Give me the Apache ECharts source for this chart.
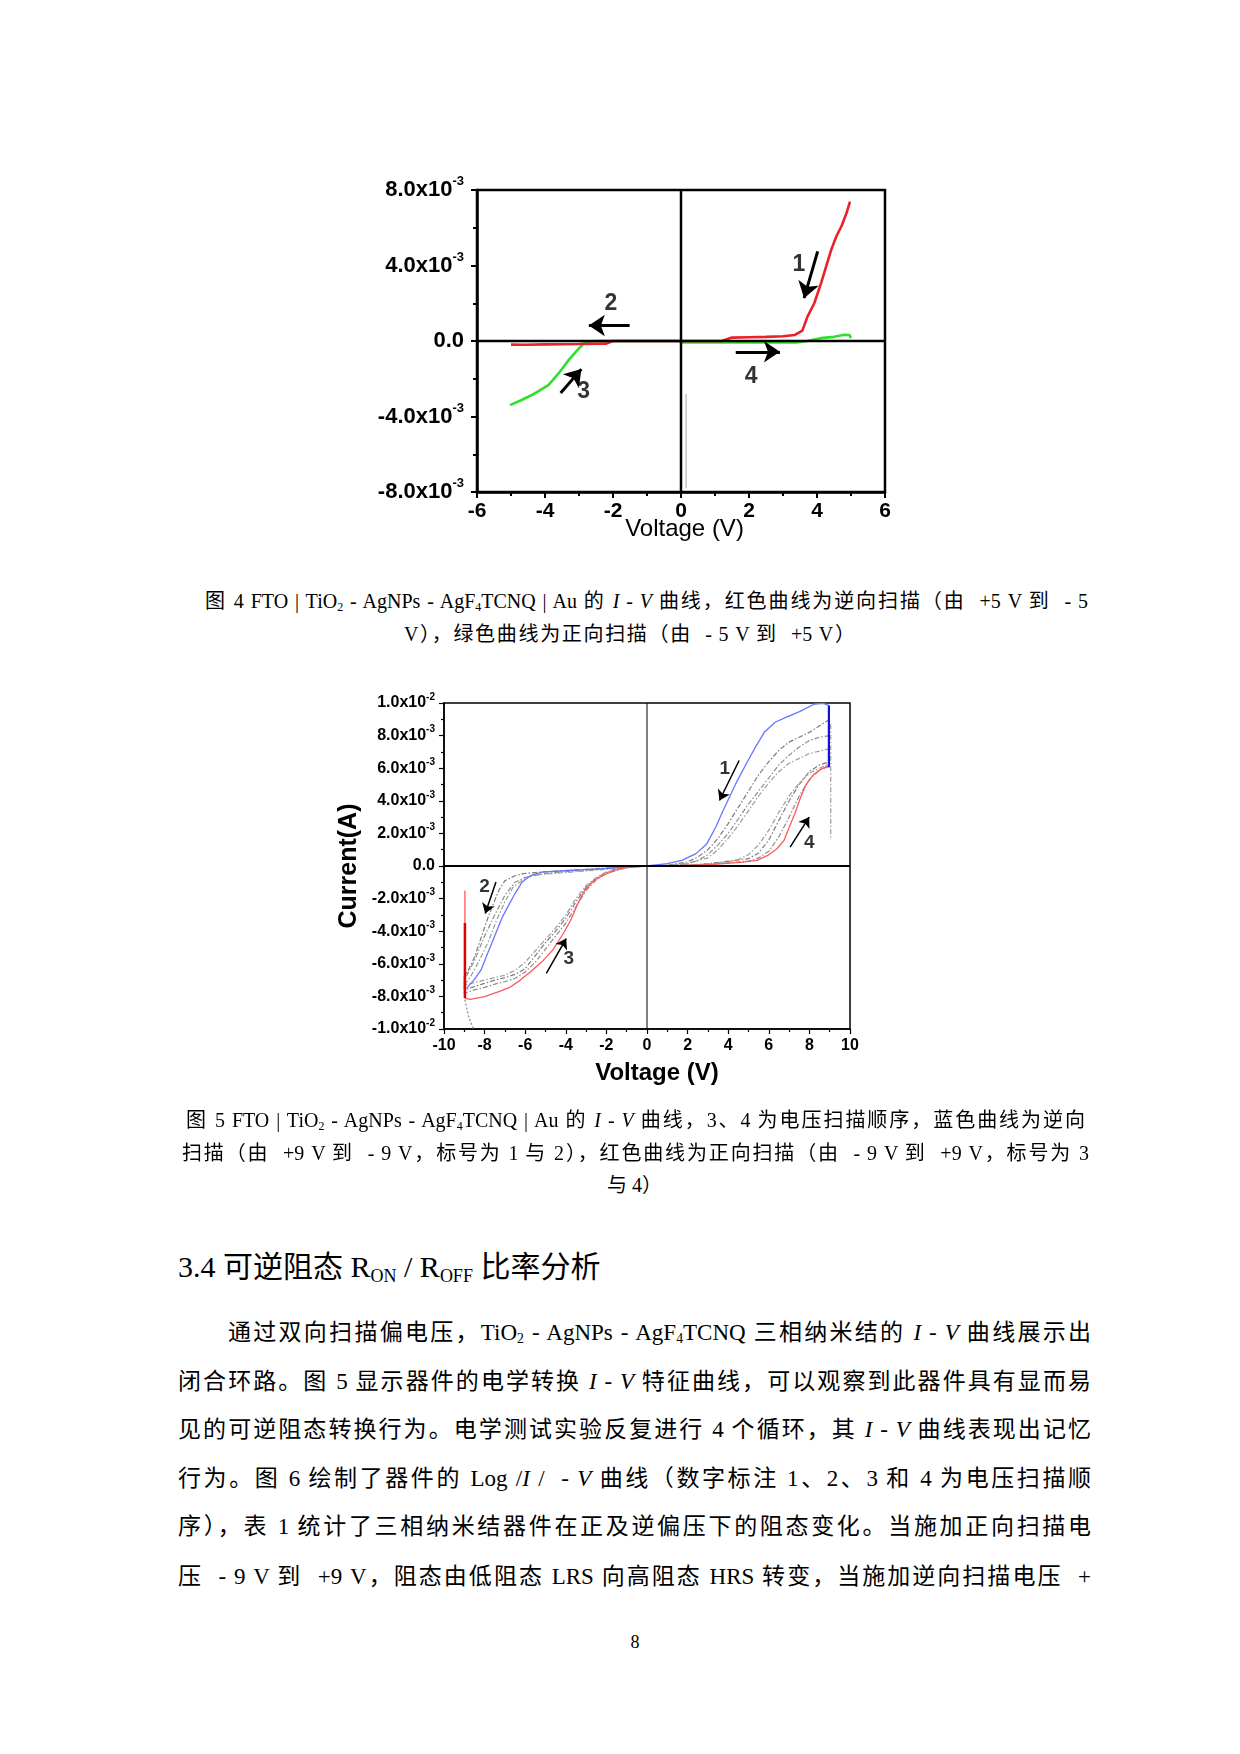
<!DOCTYPE html>
<html><head><meta charset="utf-8">
<script src="https://cdn.jsdelivr.net/npm/echarts@6/dist/echarts.min.js"></script>
<style>
html,body{margin:0;padding:0;background:#fff;}
#page{position:relative;width:1240px;height:1754px;overflow:hidden;background:#fff;}
.t{position:absolute;font-family:"Liberation Serif","Noto Sans CJK SC",serif;color:#000;}
.j{text-align:justify;text-align-last:justify;white-space:nowrap;}
.c{text-align:center;white-space:nowrap;}
.cap{font-size:20px;line-height:26px;height:26px;}
.body{font-size:23px;line-height:30px;height:30px;}
.head{font-size:30px;line-height:36px;height:36px;white-space:nowrap;}
sub{font-size:0.6em;vertical-align:-0.25em;line-height:0;}
#c1{position:absolute;left:300px;top:150px;width:640px;height:420px;}
#c2{position:absolute;left:290px;top:670px;width:620px;height:440px;}
</style></head>
<body><div id="page">
<div id="c1"></div>
<div id="c2"></div>

<div class="t cap j" style="left:205px;top:588px;width:883px;">图 4 FTO | TiO<sub>2</sub> - AgNPs - AgF<sub>4</sub>TCNQ | Au 的 <i>I</i> - <i>V</i> 曲线，红色曲线为逆向扫描（由&nbsp; +5 V 到&nbsp; - 5</div>
<div class="t cap j" style="left:404px;top:621px;width:451px;">V），绿色曲线为正向扫描（由&nbsp; - 5 V 到&nbsp; +5 V）</div>

<div class="t cap j" style="left:186px;top:1107px;width:899px;">图 5 FTO | TiO<sub>2</sub> - AgNPs - AgF<sub>4</sub>TCNQ | Au 的 <i>I</i> - <i>V</i> 曲线，3、4 为电压扫描顺序，蓝色曲线为逆向</div>
<div class="t cap j" style="left:182px;top:1140px;width:907px;">扫描（由&nbsp; +9 V 到&nbsp; - 9 V，标号为 1 与 2），红色曲线为正向扫描（由&nbsp; - 9 V 到&nbsp; +9 V，标号为 3</div>
<div class="t cap j" style="left:607px;top:1172px;width:46px;">与 4）</div>

<div class="t head" style="left:178px;top:1249px;">3.4 可逆阻态 R<sub>ON</sub> / R<sub>OFF</sub> 比率分析</div>

<div class="t body j" style="left:228px;top:1318px;width:863px;">通过双向扫描偏电压，TiO<sub>2</sub> - AgNPs - AgF<sub>4</sub>TCNQ 三相纳米结的 <i>I</i> - <i>V</i> 曲线展示出</div>
<div class="t body j" style="left:178px;top:1367px;width:913px;">闭合环路。图 5 显示器件的电学转换 <i>I</i> - <i>V</i> 特征曲线，可以观察到此器件具有显而易</div>
<div class="t body j" style="left:178px;top:1415px;width:913px;">见的可逆阻态转换行为。电学测试实验反复进行 4 个循环，其 <i>I</i> - <i>V</i> 曲线表现出记忆</div>
<div class="t body j" style="left:178px;top:1464px;width:913px;">行为。图 6 绘制了器件的 Log /<i>I</i> /&nbsp; - <i>V</i> 曲线（数字标注 1、2、3 和 4 为电压扫描顺</div>
<div class="t body j" style="left:178px;top:1512px;width:913px;">序），表 1 统计了三相纳米结器件在正及逆偏压下的阻态变化。当施加正向扫描电</div>
<div class="t body j" style="left:178px;top:1562px;width:913px;">压&nbsp; - 9 V 到&nbsp; +9 V，阻态由低阻态 LRS 向高阻态 HRS 转变，当施加逆向扫描电压&nbsp; +</div>

<div class="t c" style="left:585px;top:1630px;width:100px;font-size:18px;line-height:24px;">8</div>
</div>
<script>
// ---------------- Figure 4 data (V, current in units of 1e-3 A) ----------------
const c1XTicks = ['-6', '-4', '-2', '0', '2', '4', '6'];
const c1YTicks = [['-8.0x10', '-3'], ['-4.0x10', '-3'], ['0.0', ''], ['4.0x10', '-3'], ['8.0x10', '-3']];
const c1RedV = [4.97, 4.87, 4.72, 4.57, 4.42, 4.27, 4.12, 3.92, 3.72, 3.57, 3.35, 3.0, 2.5, 2.0, 1.5, 1.2, 0, -2.0, -2.2, -3.0, -4.0, -4.6, -5.0];
const c1RedI = [7.38, 6.79, 6.08, 5.55, 4.84, 3.95, 3.07, 2.0, 1.29, 0.55, 0.32, 0.25, 0.22, 0.2, 0.18, 0, 0, 0, -0.14, -0.16, -0.18, -0.2, -0.19];
const c1GreenV = [-5.03, -4.7, -4.3, -3.9, -3.6, -3.3, -3.0, -2.81, -2.5, -0.1, 0.05, 3.4, 3.7, 4.1, 4.5, 4.8, 4.95, 5.0];
const c1GreenI = [-3.4, -3.14, -2.78, -2.34, -1.72, -1.0, -0.39, -0.04, 0, 0, -0.08, -0.08, 0, 0.15, 0.22, 0.33, 0.32, 0.15];
const c1GrayV = [0.15, 0.15];
const c1GrayI = [-2.8, -7.8];
const c1AnnText = ['1', '2', '3', '4'];
const c1AnnV = [3.47, -2.06, -2.86, 2.06];
const c1AnnI = [4.04, 2.0, -2.7, -1.9];
const c1ArrowFrom = [[4.02, 4.75], [-1.51, 0.82], [-3.54, -2.75], [1.61, -0.57]];
const c1ArrowTo = [[3.62, 2.27], [-2.71, 0.82], [-2.93, -1.49], [2.91, -0.57]];

// ---------------- Figure 5 data (V, current in units of 1e-3 A) ----------------
const c2XTicks = ['-10', '-8', '-6', '-4', '-2', '0', '2', '4', '6', '8', '10'];
const c2YTicks = [['-1.0x10', '-2'], ['-8.0x10', '-3'], ['-6.0x10', '-3'], ['-4.0x10', '-3'], ['-2.0x10', '-3'], ['0.0', ''],
                  ['2.0x10', '-3'], ['4.0x10', '-3'], ['6.0x10', '-3'], ['8.0x10', '-3'], ['1.0x10', '-2']];
const c2BlueV = [8.96, 8.96, 8.7, 8.25, 7.54, 6.84, 6.31, 5.78, 5.34, 4.89, 4.45, 4.1, 3.75, 3.39, 2.95, 2.42, 1.71, 1.0, 0, -0.94, -2.0, -3.06, -4.12, -5.18, -5.71, -6.15, -6.5, -6.86, -7.12, -7.39, -7.65, -7.92, -8.18, -8.53, -8.89];
const c2BlueI = [6.06, 9.84, 9.98, 9.94, 9.49, 9.12, 8.82, 8.2, 7.29, 6.27, 5.24, 4.33, 3.41, 2.39, 1.37, 0.76, 0.35, 0.14, 0, -0.04, -0.16, -0.22, -0.29, -0.37, -0.57, -0.98, -1.69, -2.51, -3.12, -3.94, -4.76, -5.57, -6.39, -7.0, -7.51];
const c2RedV = [-8.97, -8.97, -8.71, -8.0, -7.3, -6.77, -6.24, -5.71, -5.18, -4.65, -4.12, -3.76, -3.41, -3.06, -2.7, -2.17, -1.47, -0.76, 0, 1.54, 3.3, 4.72, 5.42, 5.95, 6.4, 6.75, 7.01, 7.28, 7.54, 7.81, 8.16, 8.6, 8.96];
const c2RedI = [-1.5, -8.1, -8.18, -8.02, -7.71, -7.45, -7.0, -6.45, -5.88, -5.16, -4.14, -3.33, -2.31, -1.49, -0.98, -0.57, -0.2, -0.06, 0, 0.02, 0.1, 0.24, 0.35, 0.65, 1.06, 1.57, 2.39, 3.2, 4.12, 4.94, 5.55, 5.96, 6.16];
const c2BlueJump = [[8.96, 6.06], [8.96, 9.84]];
const c2RedJump = [[-8.97, -3.5], [-8.97, -8.1]];
const c2GrayA = [[9.0,9.0],[8.5,8.6],[8.0,8.2],[7.5,7.9],[7.0,7.6],[6.5,7.1],[6.0,6.4],[5.5,5.6],[5.0,4.6],[4.5,3.6],[4.0,2.6],[3.5,1.7],[3.0,1.0],[2.5,0.55],[2.0,0.25],[1.0,0.05],[0,0],
  [-1.0,-0.05],[-2.0,-0.12],[-3.0,-0.2],[-4.0,-0.28],[-5.0,-0.35],[-6.0,-0.45],[-6.5,-0.6],[-7.0,-0.9],[-7.3,-1.5],[-7.6,-2.4],[-7.9,-3.4],[-8.2,-4.5],[-8.5,-5.6],[-8.8,-6.4],[-9.0,-6.8],
  [-9.0,-7.6],[-8.5,-7.4],[-8.0,-7.2],[-7.5,-7.0],[-7.0,-6.85],[-6.5,-6.65],[-6.0,-6.3],[-5.5,-5.5],[-5.0,-4.7],[-4.5,-4.0],[-4.0,-3.2],[-3.5,-2.2],[-3.0,-1.3],[-2.5,-0.75],[-2.0,-0.4],[-1.0,-0.08],[0,0],
  [2.0,0.05],[3.0,0.15],[4.0,0.3],[5.0,0.45],[5.5,0.8],[6.0,1.6],[6.5,2.8],[7.0,4.0],[7.5,5.0],[8.0,5.8],[8.5,6.2],[9.0,6.4]];
const c2GrayB = [[9.0,8.0],[8.5,7.9],[8.0,7.7],[7.5,7.3],[7.0,6.8],[6.5,6.2],[6.0,5.4],[5.5,4.6],[5.0,3.8],[4.5,2.9],[4.0,2.0],[3.5,1.3],[3.0,0.7],[2.5,0.35],[2.0,0.15],[1.0,0.03],[0,0],
  [-2.0,-0.15],[-4.0,-0.35],[-5.0,-0.45],[-6.0,-0.7],[-6.5,-1.0],[-7.0,-1.8],[-7.5,-3.0],[-8.0,-4.3],[-8.5,-5.8],[-9.0,-7.0],
  [-9.0,-7.8],[-8.5,-7.6],[-8.0,-7.45],[-7.5,-7.25],[-7.0,-7.1],[-6.5,-6.9],[-6.0,-6.5],[-5.5,-5.9],[-5.0,-5.1],[-4.5,-4.3],[-4.0,-3.5],[-3.5,-2.5],[-3.0,-1.5],[-2.5,-0.85],[-2.0,-0.45],[-1.0,-0.1],[0,0],
  [3.0,0.1],[4.0,0.2],[5.0,0.3],[5.5,0.5],[6.0,0.9],[6.5,1.8],[7.0,3.0],[7.5,4.3],[8.0,5.3],[8.5,5.9],[9.0,6.1]];
const c2GrayC = [[9.0,7.2],[8.0,6.9],[7.0,6.3],[6.5,5.8],[6.0,5.1],[5.5,4.3],[5.0,3.4],[4.5,2.5],[4.0,1.7],[3.5,1.0],[3.0,0.5],[2.0,0.15],[1.0,0.03],[0,0],
  [-2.0,-0.2],[-4.0,-0.4],[-5.5,-0.55],[-6.0,-0.75],[-6.6,-1.3],[-7.0,-2.2],[-7.4,-3.3],[-7.8,-4.6],[-8.3,-5.9],[-8.7,-6.8],[-9.0,-7.3],
  [-9.0,-7.4],[-8.0,-7.0],[-7.0,-6.7],[-6.5,-6.4],[-6.0,-5.9],[-5.5,-5.2],[-5.0,-4.5],[-4.5,-3.8],[-4.0,-3.0],[-3.5,-2.0],[-3.0,-1.2],[-2.5,-0.7],[-2.0,-0.35],[-1.0,-0.07],[0,0],
  [2.0,0.05],[3.0,0.12],[4.0,0.25],[4.5,0.4],[5.0,0.7],[5.5,1.3],[6.0,2.2],[6.5,3.3],[7.0,4.3],[7.5,5.1],[8.0,5.7],[8.5,6.0],[9.0,6.3]];
const c2GrayTail = [[-8.97, -8.2], [-8.8, -9.2], [-8.55, -10]];
const c2GrayRight = [[9.05, 8.7], [9.05, 1.6]];
const c2AnnText = ['1', '2', '3', '4'];
const c2AnnV = [3.83, -8.0, -3.85, 7.99];
const c2AnnI = [5.96, -1.29, -5.67, 1.41];
const c2ArrowFrom = [[4.54, 6.47], [-7.44, -0.98], [-4.96, -6.59], [7.05, 1.16]];
const c2ArrowTo = [[3.57, 4.02], [-7.97, -2.92], [-3.98, -4.45], [7.99, 3.0]];

// ---------------- helpers ----------------
const FONT = '"Liberation Sans", Arial, sans-serif';
const zip = (a, b) => a.map((v, i) => [v, b[i]]);
const supLabel = (t) => t[1] ? '{m|' + t[0] + '}{s|' + t[1] + '}' : '{m|' + t[0] + '}';

function buildOption(cfg) {
  const xr = cfg.x, yr = cfg.y;
  return {
    animation: false,
    grid: Object.assign({show: true, borderColor: '#000', borderWidth: cfg.frameW, backgroundColor: 'transparent'}, cfg.grid),
    xAxis: {
      type: 'value', min: xr[0], max: xr[1], interval: xr[2],
      axisLine: {show: true, onZero: false, lineStyle: {color: '#000', width: cfg.frameW}},
      axisTick: {show: true, length: cfg.tickLen, lineStyle: {color: '#000', width: cfg.tickW}},
      minorTick: {show: true, splitNumber: 2, length: cfg.minorLen, lineStyle: {color: '#000', width: cfg.tickW}},
      splitLine: {show: false}, minorSplitLine: {show: false},
      axisLabel: {margin: cfg.xMargin, color: '#000', fontFamily: FONT, fontSize: cfg.xFont, fontWeight: 'bold',
        formatter: (v) => cfg.xTicks[Math.round((v - xr[0]) / xr[2])]},
      name: 'Voltage (V)', nameLocation: 'middle', nameGap: cfg.xNameGap, nameMoveOverlap: false,
      nameTextStyle: {color: '#000', fontFamily: FONT, fontSize: cfg.xNameFont, fontWeight: cfg.xNameWeight,
        padding: [0, 0, 0, cfg.xNameShift]}
    },
    yAxis: {
      type: 'value', min: yr[0], max: yr[1], interval: yr[2],
      axisLine: {show: true, onZero: false, lineStyle: {color: '#000', width: cfg.frameW}},
      axisTick: {show: true, length: cfg.tickLen, lineStyle: {color: '#000', width: cfg.tickW}},
      minorTick: {show: true, splitNumber: 2, length: cfg.minorLen, lineStyle: {color: '#000', width: cfg.tickW}},
      splitLine: {show: false}, minorSplitLine: {show: false},
      axisLabel: {margin: cfg.yMargin, formatter: (v) => supLabel(cfg.yTicks[Math.round((v - yr[0]) / yr[2])]),
        rich: {
          m: {fontFamily: FONT, fontSize: cfg.yFont, fontWeight: 'bold', color: '#000', lineHeight: cfg.yLH},
          s: {fontFamily: FONT, fontSize: cfg.supFont, fontWeight: 'bold', color: '#000', verticalAlign: 'top', lineHeight: cfg.supFont}
        }},
      name: cfg.yName || '', nameLocation: 'middle', nameGap: cfg.yNameGap || 0, nameMoveOverlap: false,
      nameTextStyle: {color: '#000', fontFamily: FONT, fontSize: cfg.yNameFont || 12, fontWeight: 'bold'}
    },
    series: cfg.series
  };
}
const lineS = (data, color, width, z, type) => ({
  type: 'line', data: data, showSymbol: false, symbol: 'none', silent: true, z: z,
  lineStyle: {color: color, width: width, type: type || 'solid'}, emphasis: {disabled: true}
});
const arrowS = (from, to, width, size) => ({
  type: 'lines', coordinateSystem: 'cartesian2d', silent: true, z: 8,
  symbol: ['none', 'arrow'], symbolSize: size,
  lineStyle: {color: '#000', width: width, opacity: 1, curveness: 0},
  data: from.map((f, i) => ({coords: [f, to[i]]}))
});
const textS = (texts, vs, is, size) => ({
  type: 'scatter', silent: true, z: 9, symbolSize: 1, itemStyle: {color: 'rgba(0,0,0,0)'},
  label: {show: true, position: 'inside', color: '#000', fontFamily: FONT, fontSize: size, fontWeight: 'bold',
    formatter: (p) => texts[p.dataIndex]},
  data: zip(vs, is)
});

// ---------------- Figure 4 ----------------
const c1X = [-6, 6, 2], c1Y = [-8, 8, 4];
const chart1 = echarts.init(document.getElementById('c1'));
chart1.setOption(buildOption({
  grid: {left: 177, top: 40, width: 408, height: 302},
  x: c1X, y: c1Y, frameW: 2.5, tickLen: 6, minorLen: 4, tickW: 2,
  xTicks: c1XTicks, yTicks: c1YTicks, xFont: 21, xMargin: 9, xNameGap: 25, xNameFont: 24, xNameWeight: 'normal', xNameShift: 7,
  yFont: 22, supFont: 13, yLH: 30, yMargin: 13,
  series: [
    lineS(zip(c1GrayV, c1GrayI), '#c4c4c4', 1.5, 1),
    lineS(zip(c1GreenV, c1GreenI), '#2fe02f', 2.6, 2),
    lineS(zip(c1RedV, c1RedI), '#e8212b', 2.6, 3),
    lineS([[0, c1Y[0]], [0, c1Y[1]]], '#000', 2.5, 5),
    lineS([[c1X[0], 0], [c1X[1], 0]], '#000', 2.5, 5),
    arrowS(c1ArrowFrom, c1ArrowTo, 3, [12, 16]),
    textS(c1AnnText, c1AnnV, c1AnnI, 23)
  ]
}));

// ---------------- Figure 5 ----------------
const c2X = [-10, 10, 2], c2Y = [-10, 10, 2];
const grayStyle = [5, 2, 1.5, 2];
const chart2 = echarts.init(document.getElementById('c2'));
chart2.setOption(buildOption({
  grid: {left: 154, top: 33, width: 406, height: 326},
  x: c2X, y: c2Y, frameW: 1.5, tickLen: 5, minorLen: 3, tickW: 1.2,
  xTicks: c2XTicks, yTicks: c2YTicks, xFont: 16, xMargin: 9, xNameGap: 32, xNameFont: 24, xNameWeight: 'bold', xNameShift: 20,
  yFont: 16, supFont: 10, yLH: 22, yMargin: 9,
  yName: 'Current(A)', yNameGap: 82, yNameFont: 25,
  series: [
    lineS(c2GrayA, '#7c7c7c', 1.2, 1, grayStyle),
    lineS(c2GrayB, '#8c8c8c', 1.2, 1, grayStyle),
    lineS(c2GrayC, '#9c9c9c', 1.2, 1, grayStyle),
    lineS(c2GrayTail, '#9a9a9a', 1.5, 1, [2, 2]),
    lineS(c2GrayRight, '#9a9a9a', 1.2, 1, grayStyle),
    lineS(zip(c2BlueV, c2BlueI), '#6676ff', 1.3, 3),
    lineS(zip(c2RedV, c2RedI), '#ff5858', 1.3, 3),
    lineS(c2BlueJump, '#1010e0', 2.2, 4),
    lineS(c2RedJump, '#e00000', 2.5, 4),
    lineS([[0, c2Y[0]], [0, c2Y[1]]], '#000', 1, 5),
    lineS([[c2X[0], 0], [c2X[1], 0]], '#000', 2, 5),
    arrowS(c2ArrowFrom, c2ArrowTo, 1.5, [7, 10]),
    textS(c2AnnText, c2AnnV, c2AnnI, 19)
  ]
}));
</script>
</body></html>
